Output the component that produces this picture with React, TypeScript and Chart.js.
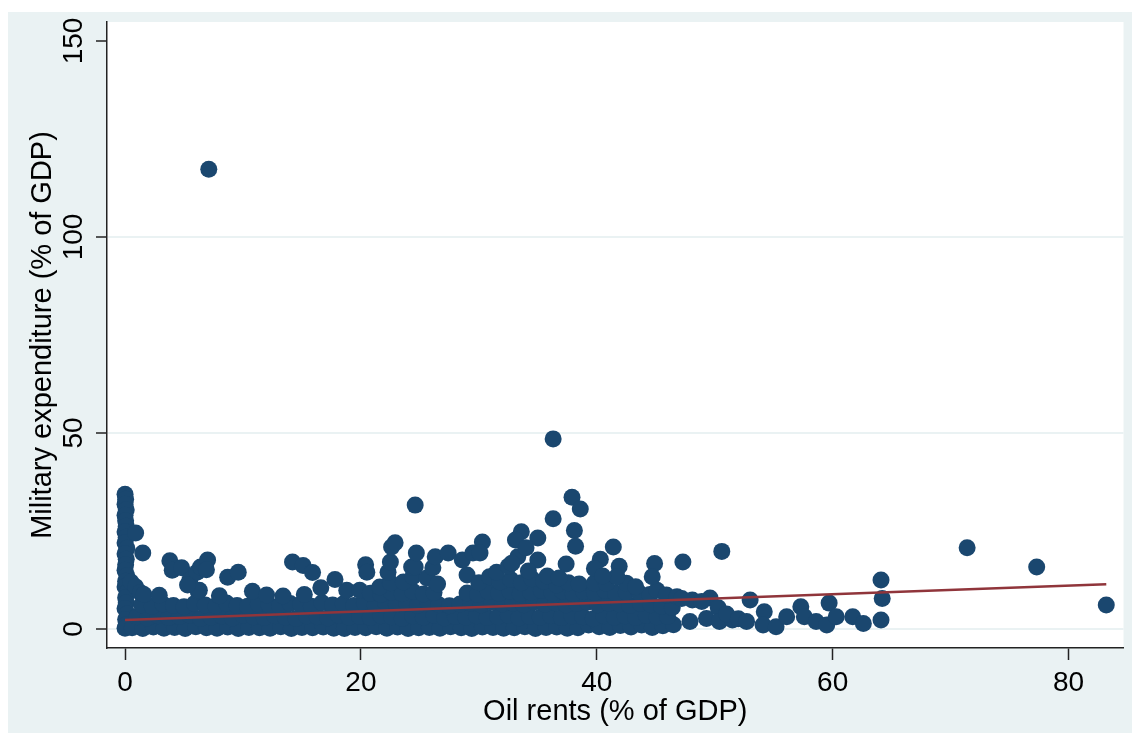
import React, { useEffect, useRef } from "react";
import { Chart, registerables } from "chart.js";

Chart.register(...registerables);

// ---------- axis definitions ----------
const X_TICKS = [0, 20, 40, 60, 80];
const X_TICK_LABELS = ["0", "20", "40", "60", "80"];
const Y_TICKS = [0, 50, 100, 150];
const Y_TICK_LABELS = ["0", "50", "100", "150"];
const X_TITLE = "Oil rents (% of GDP)";
const Y_TITLE = "Military expenditure (% of GDP)";
const X_RANGE = [-1.53, 84.66];
const Y_RANGE = [-4.85, 154.85];

// ---------- fitted line ----------
const FIT_X = [0, 83.2];
const FIT_Y = [2.3, 11.4];

// ---------- observations: [oil rents, military expenditure] ----------
const ZERO_RENT: [number, number][] = [
  [0, 34.4], [0.05, 33.1], [0, 31.8], [0.1, 30.4], [0, 29.0], [0.05, 27.6], [0.1, 26.2],
  [0, 24.8], [0.1, 23.4], [0, 22.0], [0.15, 20.6], [0, 19.2], [0.1, 17.8], [0.05, 16.4],
  [0, 15.0], [0.15, 13.6], [0.05, 12.2], [0, 10.8], [0.2, 9.4], [0.05, 8.0], [0.1, 6.6],
  [0, 5.2], [0.2, 3.8], [0.05, 2.4], [0.1, 1.0], [0, 0.2],
  [0.9, 24.5], [1.5, 19.4], [0.5, 12.0], [0.9, 10.8], [1.3, 9.3],
];

const DENSE_LOW: [number, number][] = [
  [0.6, 0.3], [1.5, 0.1], [2.4, 0.5], [3.3, 0.2], [4.2, 0.4], [5.1, 0.1], [6.0, 0.6], [6.9, 0.3],
  [7.8, 0.2], [8.7, 0.5], [9.6, 0.1], [10.5, 0.4], [11.4, 0.3], [12.3, 0.2], [13.2, 0.6], [14.1, 0.1],
  [15.0, 0.4], [15.9, 0.3], [16.8, 0.5], [17.7, 0.2], [18.6, 0.1], [19.5, 0.4], [20.4, 0.3], [21.3, 0.6],
  [22.2, 0.2], [23.1, 0.5], [24.0, 0.1], [24.9, 0.3], [25.8, 0.4], [26.7, 0.2], [27.6, 0.6], [28.5, 0.3],
  [29.4, 0.1], [30.3, 0.5], [31.2, 0.4], [32.1, 0.2], [33.0, 0.3], [33.9, 0.6], [34.8, 0.1], [35.7, 0.4],
  [36.6, 0.5], [37.5, 0.2], [38.4, 0.3], [39.3, 1.0], [40.2, 0.6], [41.1, 0.4], [42.0, 0.9], [42.9, 0.5],
  [43.8, 1.0], [44.7, 0.4], [45.6, 0.8], [46.5, 1.1],
];

const DENSE_MID: [number, number][] = [
  [1.0, 3.1], [1.9, 2.8], [2.8, 3.4], [3.7, 2.9], [4.6, 3.2], [5.5, 3.5], [6.4, 2.7], [7.3, 3.0],
  [8.2, 3.3], [9.1, 2.8], [10.0, 3.5], [10.9, 3.1], [11.8, 2.9], [12.7, 3.4], [13.6, 3.0], [14.5, 2.7],
  [15.4, 3.3], [16.3, 3.1], [17.2, 2.8], [18.1, 3.5], [19.0, 3.0], [19.9, 3.2], [20.8, 2.9], [21.7, 3.4],
  [22.6, 3.1], [23.5, 2.7], [24.4, 3.3], [25.3, 3.0], [26.2, 3.5], [27.1, 2.8], [28.0, 3.2], [28.9, 3.0],
  [29.8, 3.4], [30.7, 2.9], [31.6, 3.1], [32.5, 3.5], [33.4, 2.8], [34.3, 3.2], [35.2, 3.0], [36.1, 3.4],
  [37.0, 2.9], [37.9, 3.3], [38.8, 3.1], [39.7, 2.6], [40.6, 3.4], [41.5, 3.0], [42.4, 3.3], [43.3, 2.9],
  [44.2, 3.5], [45.1, 3.1], [46.0, 3.2],
];

const DENSE_HIGH: [number, number][] = [
  [1.4, 6.2], [2.3, 5.8], [3.2, 6.4], [4.1, 6.0], [5.0, 5.7], [5.9, 6.5], [6.8, 6.1], [7.7, 5.9],
  [8.6, 6.6], [9.5, 6.0], [10.4, 5.8], [11.3, 6.4], [12.2, 6.2], [13.1, 5.9], [14.0, 6.5], [14.9, 6.3],
  [15.8, 5.8], [16.7, 6.7], [17.6, 6.1], [18.5, 6.4], [19.4, 6.0], [20.3, 6.6], [21.2, 6.2], [22.1, 6.8],
  [23.0, 6.3], [23.9, 6.5], [24.8, 6.0], [25.7, 6.7], [26.6, 6.2], [27.5, 5.9], [28.4, 6.4], [29.3, 6.6],
  [30.2, 6.1], [31.1, 6.8], [32.0, 6.4], [32.9, 6.6], [33.8, 6.2], [34.7, 6.9], [35.6, 6.3], [36.5, 6.7],
  [37.4, 6.1], [38.3, 6.5], [39.2, 6.8], [40.1, 6.2], [41.0, 6.6], [41.9, 6.4], [42.8, 6.0], [43.7, 6.5],
  [44.6, 6.2], [45.5, 5.8], [46.4, 5.5],
];

const UPPER_EDGE: [number, number][] = [
  [1.6, 8.8], [2.9, 8.6], [6.2, 9.6], [8.0, 8.5], [10.8, 9.6], [12.0, 8.7], [13.4, 8.4], [15.2, 8.8],
  [16.6, 10.5], [18.8, 9.9], [19.9, 9.9],
  [20.8, 9.1], [21.7, 8.8], [22.6, 9.4], [23.5, 9.0], [24.4, 9.6], [25.3, 8.9], [26.2, 9.3],
  [29.0, 9.2], [29.9, 8.8], [30.8, 9.5], [31.7, 9.1], [32.6, 9.7], [33.5, 9.0], [34.4, 9.4], [35.3, 9.8],
  [36.2, 9.2], [37.1, 9.6], [38.0, 9.0], [38.9, 9.5], [39.8, 9.3], [40.7, 9.8], [41.6, 9.1], [42.5, 9.4],
  [43.6, 9.2], [44.5, 8.8], [45.1, 9.9], [45.9, 8.7], [46.8, 8.2], [48.1, 7.4],
  [21.6, 10.7], [22.5, 11.8], [23.6, 12.0], [24.4, 13.3], [25.6, 13.0], [26.5, 11.5], [29.0, 13.8],
  [30.0, 11.8], [30.9, 13.3], [31.8, 12.0], [32.7, 12.6], [33.6, 11.8], [34.5, 12.8], [35.5, 12.2],
  [36.6, 11.2], [37.6, 11.8], [38.5, 11.5], [39.8, 11.7], [40.8, 11.7], [41.7, 13.3], [42.5, 11.7],
  [43.3, 10.8],
];

const SCATTERED: [number, number][] = [
  [3.8, 17.4], [4.0, 15.0], [4.8, 15.6], [5.5, 12.5], [6.1, 14.5], [6.4, 15.8], [7.0, 17.6], [6.9, 15.1],
  [6.3, 9.9], [8.7, 13.2], [9.6, 14.5], [5.3, 11.2],
  [14.2, 17.1], [15.1, 16.2], [15.9, 14.4], [17.8, 12.6],
  [20.4, 16.4], [20.5, 14.5], [22.3, 14.5], [22.5, 17.1], [22.6, 20.9], [22.9, 22.0],
  [24.3, 15.8], [24.6, 15.8], [24.7, 19.4], [26.1, 15.6], [26.3, 18.4], [27.4, 19.4], [28.6, 17.6],
  [29.5, 19.4], [30.3, 22.2], [30.1, 19.4],
  [31.5, 14.5], [32.5, 16.0], [33.3, 18.4], [32.8, 16.8], [33.6, 24.8], [33.1, 22.7], [35.0, 23.2],
  [34.0, 20.7], [35.0, 17.6], [34.2, 14.8], [35.8, 13.5],
  [37.9, 33.6], [38.6, 30.6], [36.3, 28.1], [38.1, 25.1], [38.2, 21.1], [37.4, 16.6], [36.8, 13.0],
  [40.3, 17.8], [39.8, 15.4], [41.9, 16.0], [41.4, 20.9], [41.7, 13.3], [40.5, 13.5],
  [44.9, 16.7], [44.7, 13.3], [47.3, 17.1],
];

const HIGH_RENT: [number, number][] = [
  [47.2, 7.8], [47.9, 1.9], [49.3, 2.7], [49.6, 7.9], [48.9, 7.0], [50.3, 5.4], [50.4, 1.9], [51.5, 2.3],
  [51.0, 3.8], [52.0, 2.6], [52.7, 1.9], [53.0, 7.4], [54.2, 4.4], [54.1, 1.0], [55.2, 0.6], [56.1, 3.1],
  [57.3, 5.7], [57.6, 3.1], [58.6, 1.9], [59.5, 1.0], [59.7, 6.6], [60.3, 3.1], [61.7, 3.1], [62.6, 1.4],
  [64.1, 12.5], [64.2, 7.8], [64.1, 2.3],
  [50.6, 19.8], [71.4, 20.7], [77.3, 15.8], [83.2, 6.1],
];

const OUTLIERS: [number, number][] = [
  [7.1, 117.3], [36.3, 48.5], [24.6, 31.6],
];

const FONT_FAMILY = "'Liberation Sans', Arial, Helvetica, sans-serif";
const NAVY = "#1A476F";

const toPoints = (arr: [number, number][]) => arr.map(([x, y]) => ({ x, y }));

export default function App() {
  const canvasRef = useRef<HTMLCanvasElement | null>(null);

  useEffect(() => {
    const canvas = canvasRef.current;
    if (!canvas) return;

    const allObs = [
      ...ZERO_RENT,
      ...DENSE_LOW,
      ...DENSE_MID,
      ...DENSE_HIGH,
      ...UPPER_EDGE,
      ...SCATTERED,
      ...HIGH_RENT,
      ...OUTLIERS,
    ];

    const plotDecor = {
      id: "plotDecor",
      beforeDraw(chart: any) {
        const { ctx, chartArea: a } = chart;
        ctx.save();
        ctx.fillStyle = "#ffffff";
        ctx.fillRect(a.left, a.top, a.right - a.left, a.bottom - a.top);
        ctx.restore();
      },
      afterDraw(chart: any) {
        const { ctx } = chart;
        const ys = chart.scales.y;
        ctx.save();
        ctx.font = `28px ${FONT_FAMILY}`;
        ctx.fillStyle = "#000000";
        ctx.textAlign = "center";
        ctx.textBaseline = "middle";
        Y_TICKS.forEach((v, i) => {
          const py = ys.getPixelForValue(v);
          ctx.save();
          ctx.translate(66.5, py);
          ctx.rotate(-Math.PI / 2);
          ctx.fillText(Y_TICK_LABELS[i], 0, 0);
          ctx.restore();
        });
        ctx.restore();
      },
    };

    const chart = new Chart(canvas, {
      type: "scatter",
      data: {
        datasets: [
          {
            label: "Fitted values",
            data: FIT_X.map((x, i) => ({ x, y: FIT_Y[i] })),
            showLine: true,
            borderColor: "#90353B",
            borderWidth: 2.5,
            pointRadius: 0,
            order: 0,
          },
          {
            label: "Military expenditure",
            data: toPoints(allObs),
            backgroundColor: NAVY,
            borderColor: NAVY,
            pointBackgroundColor: NAVY,
            pointBorderColor: NAVY,
            pointBorderWidth: 0,
            pointRadius: 8.5,
            pointHoverRadius: 8.5,
            order: 1,
          },
        ],
      },
      plugins: [plotDecor],
      options: {
        responsive: false,
        animation: false,
        devicePixelRatio: 1,
        layout: { padding: { top: 10, right: 8, left: 0, bottom: 0 } },
        plugins: {
          legend: { display: false },
          tooltip: { enabled: false },
        },
        scales: {
          x: {
            type: "linear",
            min: X_RANGE[0],
            max: X_RANGE[1],
            afterBuildTicks: (scale: any) => {
              scale.ticks = X_TICKS.map((v) => ({ value: v }));
            },
            afterFit: (scale: any) => {
              scale.height = 85;
            },
            ticks: {
              callback: (value: any) => {
                const i = X_TICKS.indexOf(Number(value));
                return i >= 0 ? X_TICK_LABELS[i] : "";
              },
              font: { family: FONT_FAMILY, size: 28 },
              color: "#000000",
              padding: 6,
              maxRotation: 0,
              minRotation: 0,
            },
            grid: {
              drawOnChartArea: false,
              drawTicks: true,
              tickLength: 12,
              tickColor: "#222222",
              tickWidth: 1.5,
            },
            border: { display: true, color: "#222222", width: 1.5 },
            title: {
              display: true,
              text: X_TITLE,
              color: "#000000",
              font: { family: FONT_FAMILY, size: 29 },
              padding: { top: 0, bottom: 4 },
            },
          },
          y: {
            type: "linear",
            min: Y_RANGE[0],
            max: Y_RANGE[1],
            afterBuildTicks: (scale: any) => {
              scale.ticks = Y_TICKS.map((v) => ({ value: v }));
            },
            afterFit: (scale: any) => {
              scale.width = 99;
            },
            ticks: { display: false },
            grid: {
              drawOnChartArea: true,
              drawTicks: true,
              tickLength: 11,
              lineWidth: 2,
              color: (ctx: any) =>
                ctx.tick && ctx.tick.value === 150 ? "rgba(0,0,0,0)" : "#EAF2F3",
              tickColor: "#222222",
              tickWidth: 1.5,
            },
            border: { display: true, color: "#222222", width: 1.5 },
            title: {
              display: true,
              text: Y_TITLE,
              color: "#000000",
              font: { family: FONT_FAMILY, size: 29 },
              padding: { top: 18, bottom: 0 },
            },
          },
        },
      },
    } as any);

    return () => chart.destroy();
  }, []);

  return (
    <div
      style={{
        position: "absolute",
        left: 8,
        top: 12,
        width: 1124,
        height: 721,
        background: "#EAF2F3",
      }}
    >
      <canvas ref={canvasRef} width={1124} height={721} style={{ display: "block" }} />
    </div>
  );
}
